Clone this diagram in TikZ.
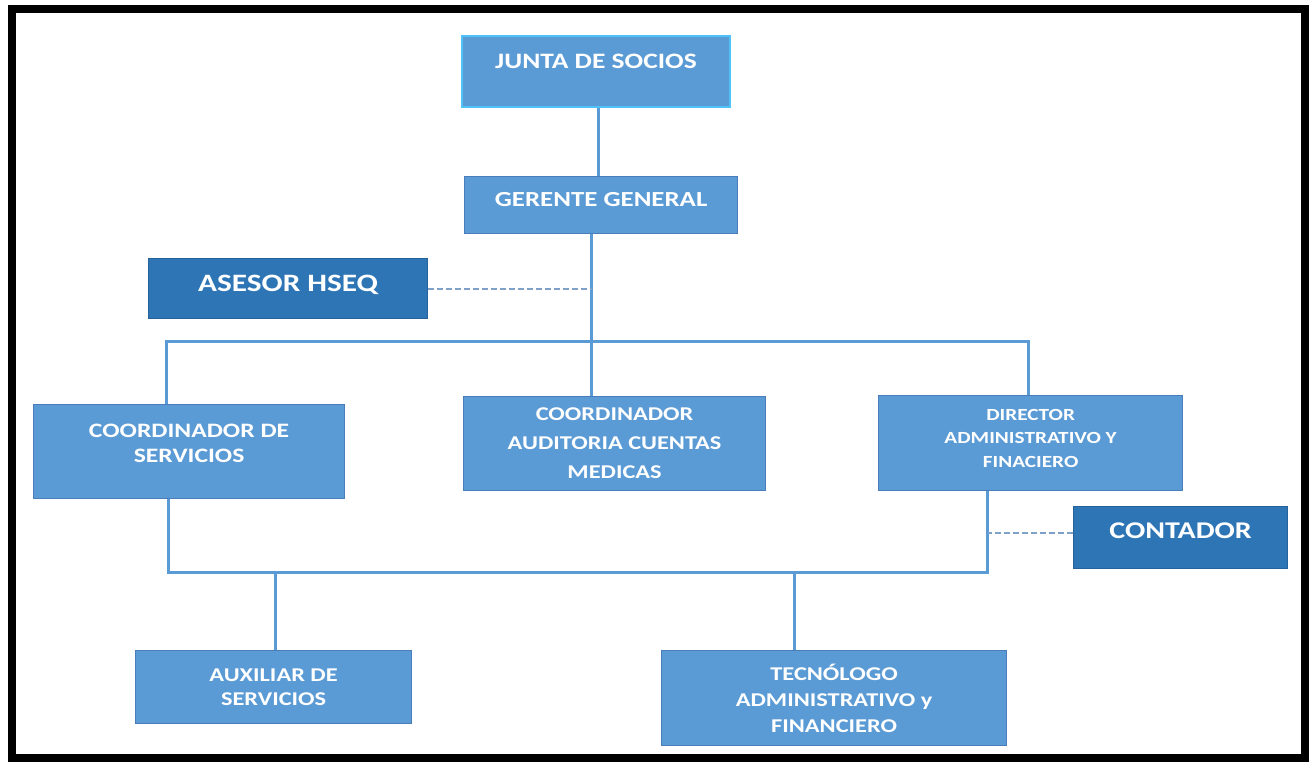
\documentclass[tikz,border=0pt]{standalone}
\usepackage{fontspec}
\newfontfamily\bxfont[FakeStretch=1.25]{Carlito}
\definecolor{boxblue}{HTML}{5B9BD5}
\definecolor{darkblue}{HTML}{2E75B6}
\definecolor{edgeblue}{HTML}{4A7EBB}
\definecolor{linkblue}{HTML}{5B9BD5}
\definecolor{cyanedge}{HTML}{4FC3F7}
\definecolor{dashgray}{HTML}{7FA0C8}
\begin{document}
\begin{tikzpicture}[x=1pt,y=-1pt,
  orgbox/.style={rectangle, fill=boxblue, draw=edgeblue, line width=1.2pt, inner sep=0pt, anchor=north west, text=white, align=center},
  darkbox/.style={orgbox, fill=darkblue, draw=darkblue!85!black},
  sz/.style 2 args={font=\bxfont\bfseries\fontsize{#1}{#2}\selectfont},
  link/.style={draw=linkblue, line width=3pt},
  dashlink/.style={draw=dashgray, line width=2pt, dash pattern=on 6pt off 3pt},
]
\useasboundingbox (0,0) rectangle (1314,763);
\fill[white] (0,0) rectangle (1314,763);
\draw[line width=8pt] (12,9) rectangle (1305,758);

% boxes
\node[orgbox, draw=cyanedge, line width=2pt, minimum width=268pt, minimum height=71pt, sz={22}{26}, text depth=20pt] (junta) at (461,35) {JUNTA DE SOCIOS};
\node[orgbox, minimum width=273pt, minimum height=57pt, sz={21.5}{26}, text depth=12pt] (gerente) at (464,176) {GERENTE GENERAL};
\node[darkbox, minimum width=279pt, minimum height=60pt, sz={25}{30}, text depth=10pt] (asesor) at (148,258) {ASESOR HSEQ};
\node[orgbox, minimum width=311pt, minimum height=94pt, sz={20.5}{25}, text depth=16pt] (coordserv) at (33,404) {COORDINADOR DE\\SERVICIOS};
\node[orgbox, minimum width=302pt, minimum height=94pt, sz={19.5}{29}] (audit) at (463,396) {COORDINADOR\\AUDITORIA CUENTAS\\MEDICAS};
\node[orgbox, minimum width=304pt, minimum height=95pt, sz={17}{23.5}, text depth=10pt] (director) at (878,395) {DIRECTOR\\ADMINISTRATIVO Y\\FINACIERO};
\node[darkbox, minimum width=214pt, minimum height=62pt, sz={24}{28}, text depth=14pt] (contador) at (1073,506) {CONTADOR};
\node[orgbox, minimum width=276pt, minimum height=73pt, sz={19.5}{24}] (aux) at (135,650) {AUXILIAR DE\\SERVICIOS};
\node[orgbox, minimum width=345pt, minimum height=95pt, sz={19.5}{26}] (tec) at (661,650) {TECNÓLOGO\\ADMINISTRATIVO y\\FINANCIERO};

% junction points
\coordinate (gdrop) at ([xshift=-9.5pt]gerente.south);
\coordinate (bus) at (591,341);
\coordinate (bus2) at (600,572);
\coordinate (sdrop) at ([xshift=-21pt]coordserv.south);
\coordinate (ddrop) at ([xshift=-43pt]director.south);
\coordinate (tdrop) at ([xshift=-39.5pt]tec.north);

% connectors
\draw[link] ([xshift=2pt]junta.south) -- ([xshift=2pt]junta.south |- gerente.north);
\draw[link] (gdrop) -- (gdrop |- audit.north);
\draw[link] ([xshift=-22.5pt]coordserv.north) |- (bus) -| ([xshift=-2pt]director.north);
\draw[dashlink] (asesor.east) -- (asesor.east -| gdrop);
\draw[link] (sdrop) |- (bus2) -| (ddrop);
\draw[link] ([xshift=2pt]aux.north) -- ([xshift=2pt]aux.north |- bus2);
\draw[link] (tdrop) -- (tdrop |- bus2);
\draw[dashlink] ([yshift=5pt]contador.west) -- ([yshift=5pt]contador.west -| ddrop);
\end{tikzpicture}
\end{document}
